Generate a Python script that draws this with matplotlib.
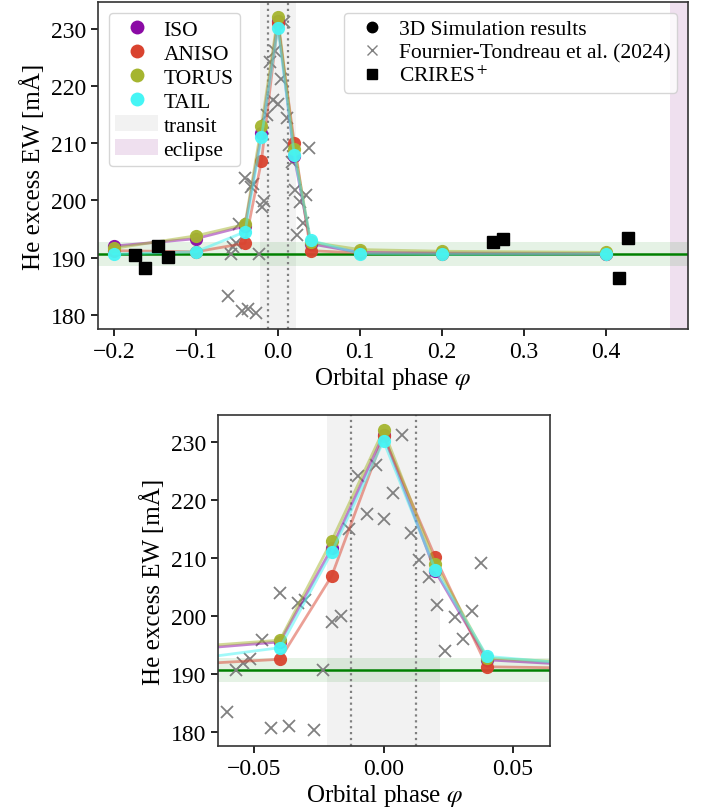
import numpy as np
import matplotlib
matplotlib.use("Agg")
import matplotlib.pyplot as plt
from matplotlib.lines import Line2D
from matplotlib.patches import Patch

plt.rcParams['font.family'] = ['Liberation Serif', 'DejaVu Serif']
plt.rcParams['mathtext.fontset'] = 'stix'
plt.rcParams['font.size'] = 17
plt.rcParams['axes.labelsize'] = 18
plt.rcParams['legend.fontsize'] = 15.5
plt.rcParams['axes.edgecolor'] = '#333333'
plt.rcParams['axes.linewidth'] = 1.2
plt.rcParams['xtick.major.width'] = 1.2
plt.rcParams['ytick.major.width'] = 1.2
plt.rcParams['xtick.major.size'] = 5
plt.rcParams['ytick.major.size'] = 5

# 3D simulation results (He excess EW, mA)
phase_sim = [-0.2, -0.1, -0.04, -0.02, 0.0, 0.02, 0.04, 0.1, 0.2, 0.4]
ew_iso = [192.0, 193.3, 195.5, 211.7, 231.3, 207.7, 192.4, 190.9, 190.8, 190.7]
ew_aniso = [191.2, 191.0, 192.5, 206.9, 231.0, 210.1, 191.2, 190.8, 190.7, 190.6]
ew_torus = [191.6, 193.8, 195.8, 213.0, 232.1, 209.0, 192.7, 191.4, 191.1, 190.9]
ew_tail = [190.6, 191.0, 194.5, 211.0, 230.2, 208.0, 193.0, 190.7, 190.6, 190.6]

models = ['ISO', 'ANISO', 'TORUS', 'TAIL']
model_ew = [ew_iso, ew_aniso, ew_torus, ew_tail]
model_colors = ['#8b0aa5', '#d9432f', '#a5b52f', '#45f5f5']

# Fournier-Tondreau et al. (2024)
phase_ft = [-0.0606, -0.0571, -0.0542, -0.0515, -0.0470, -0.0434, -0.0400, -0.0366,
            -0.0332, -0.0304, -0.0269, -0.0234, -0.0198, -0.0166, -0.0133, -0.0097,
            -0.0064, -0.0030, 0.0002, 0.0037, 0.0071, 0.0106, 0.0138, 0.0174,
            0.0207, 0.0239, 0.0275, 0.0308, 0.0342, 0.0378]
ew_ft = [183.3, 190.7, 191.9, 192.5, 195.9, 180.6, 204.0, 181.0,
         202.3, 202.8, 180.3, 190.7, 198.9, 199.9, 215.0, 224.2,
         217.6, 226.1, 216.8, 221.3, 231.2, 214.4, 209.6, 206.7,
         201.8, 194.0, 199.8, 196.0, 200.9, 209.1]

# CRIRES+
phase_cr = [-0.1744, -0.1614, -0.146, -0.1337, 0.263, 0.275, 0.4155, 0.427]
ew_cr = [190.4, 188.1, 192.0, 190.1, 192.8, 193.2, 186.5, 193.5]

ew_mean = 190.6
ew_err = 2.1
transit_half = 0.022
contact_half = 0.0125


def draw(ax):
    ax.axvspan(-transit_half, transit_half, color='gray', alpha=0.1, lw=0)
    ax.axvspan(0.5 - transit_half, 0.5 + transit_half, color='purple', alpha=0.12, lw=0)
    for xc in (-contact_half, contact_half):
        ax.axvline(xc, color='gray', ls=':', lw=1.6)
    ax.axhspan(ew_mean - ew_err, ew_mean + ew_err, color='green', alpha=0.1, lw=0)
    ax.axhline(ew_mean, color='green', lw=1.8)
    ax.plot(phase_ft, ew_ft, 'x', color='gray', ms=8, mew=1.3)
    for ew, c in zip(model_ew, model_colors):
        ax.plot(phase_sim, ew, '-', color=c, alpha=0.5, lw=2)
        ax.plot(phase_sim, ew, 'o', color=c, ms=9.5, alpha=0.95, mec='none')
    ax.plot(phase_cr, ew_cr, 's', color='black', ms=8)
    ax.set_ylim(177.5, 234.7)
    ax.set_yticks([180, 190, 200, 210, 220, 230])
    ax.set_ylabel('He excess EW [mÅ]')
    ax.set_xlabel(r'Orbital phase $\varphi$', labelpad=2)


fig = plt.figure(figsize=(7.04, 8.12), dpi=100)
ax1 = fig.add_axes([0.139, 0.5936, 0.838, 0.4027])
ax2 = fig.add_axes([0.3097, 0.080, 0.4716, 0.4076])

draw(ax1)
ax1.set_xlim(-0.2195, 0.5)
ax1.set_xticks([-0.2, -0.1, 0.0, 0.1, 0.2, 0.3, 0.4])

h_models = [Line2D([], [], ls='none', marker='o', ms=10, color=c, mec='none') for c in model_colors]
h_spans = [Patch(color='gray', alpha=0.1, lw=0), Patch(color='purple', alpha=0.12, lw=0)]
leg1 = ax1.legend(h_models + h_spans, models + ['transit', 'eclipse'], loc='upper left',
                  handlelength=2.0, handleheight=0.8, handletextpad=0.25,
                  labelspacing=0.15, borderpad=0.3)
ax1.add_artist(leg1)
h_data = [Line2D([], [], ls='none', marker='o', ms=7.5, color='black'),
          Line2D([], [], ls='none', marker='x', ms=7.5, color='gray'),
          Line2D([], [], ls='none', marker='s', ms=7.5, color='black')]
ax1.legend(h_data, ['3D Simulation results', 'Fournier-Tondreau et al. (2024)', r'CRIRES$^+$'],
           loc='upper right', handlelength=2.0, handletextpad=0.25,
           labelspacing=0.15, borderpad=0.3)

draw(ax2)
ax2.set_xlim(-0.0639, 0.0643)
ax2.set_xticks([-0.05, 0.0, 0.05])

fig.savefig('out.png', dpi=100)
